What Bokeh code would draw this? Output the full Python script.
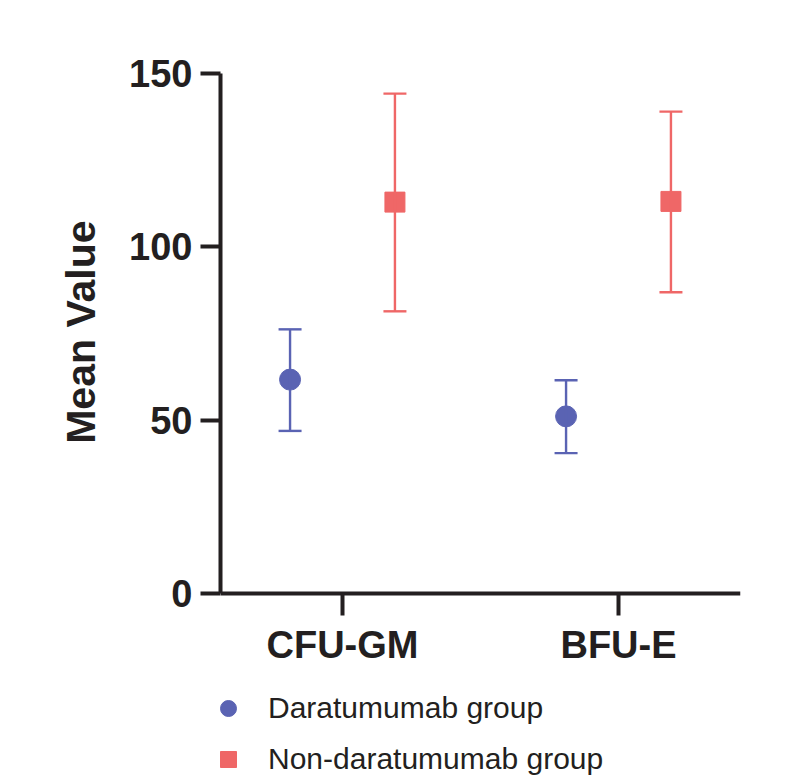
from bokeh.plotting import figure
from bokeh.models import (ColumnDataSource, FactorRange, Range1d, Whisker, TeeHead,
                          FixedTicker, Legend, LegendItem, Title)
from bokeh.transform import dodge
from bokeh.embed import file_html
from bokeh.resources import INLINE

# ---- data ----
categories = ["CFU-GM", "BFU-E"]
dara_mean = [61.7, 51.1]
dara_upper = [76.2, 61.5]
dara_lower = [46.9, 40.5]
nondara_mean = [112.9, 113.1]
nondara_upper = [144.2, 139.0]
nondara_lower = [81.4, 86.9]
y_ticks = [0, 50, 100, 150]
y_title = "Mean Value"
series_names = ["Daratumumab group", "Non-daratumumab group"]

BLUE = "#5a63b3"
RED = "#ef6767"
INK = "#231f20"

src_d = ColumnDataSource(dict(cat=categories, mean=dara_mean, upper=dara_upper, lower=dara_lower))
src_n = ColumnDataSource(dict(cat=categories, mean=nondara_mean, upper=nondara_upper, lower=nondara_lower))

# the frame reaches the bottom so the legend fits inside it; x axis is pinned at y = 0
p = figure(width=792, height=780,
           x_range=FactorRange(*categories, range_padding=-0.058, range_padding_units="absolute"),
           y_range=Range1d(-53.94, 150),
           output_backend="svg", toolbar_location=None,
           min_border_left=220, min_border_right=52, min_border_top=73, min_border_bottom=0)

p.outline_line_color = None
p.xgrid.visible = False
p.ygrid.visible = False
p.background_fill_color = "white"
p.border_fill_color = "white"

# whiskers
for src, off, col in [(src_d, -0.19, BLUE), (src_n, 0.19, RED)]:
    w = Whisker(source=src, base=dodge("cat", off, range=p.x_range), upper="upper", lower="lower",
                dimension="height", line_color=col, line_width=2.4,
                upper_head=TeeHead(size=23, line_color=col, line_width=2.4),
                lower_head=TeeHead(size=23, line_color=col, line_width=2.4))
    w.level = "glyph"
    p.add_layout(w)

r1 = p.scatter(x=dodge("cat", -0.19, range=p.x_range), y="mean", source=src_d,
               marker="circle", size=21, fill_color=BLUE, line_color=BLUE)
r2 = p.scatter(x=dodge("cat", 0.19, range=p.x_range), y="mean", source=src_n,
               marker="square", size=20, fill_color=RED, line_color=RED)

# axes
for ax in (p.xaxis[0], p.yaxis[0]):
    ax.axis_line_width = 4
    ax.axis_line_color = INK
    ax.major_tick_line_width = 4
    ax.major_tick_line_color = INK
    ax.major_tick_in = 0
    ax.minor_tick_line_color = None
    ax.major_label_text_font = "Liberation Sans"
    ax.major_label_text_font_style = "bold"
    ax.major_label_text_font_size = "38px"
    ax.major_label_text_color = INK

p.yaxis.ticker = FixedTicker(ticks=y_ticks)
p.yaxis.bounds = (0, 150)
p.yaxis.major_tick_out = 20
p.yaxis.major_label_standoff = 8

# y-axis title, centred on the 0..150 span rather than on the whole frame
p.add_layout(Title(text=y_title, align="right", vertical_align="middle", offset=147,
                   standoff=43, text_font="Liberation Sans", text_font_style="bold",
                   text_font_size="41px", text_color=INK), "left")

p.xaxis.fixed_location = 0
p.xaxis.major_tick_out = 22
p.xaxis.major_label_standoff = 8

legend = Legend(items=[LegendItem(label=series_names[0], renderers=[r1]),
                       LegendItem(label=series_names[1], renderers=[r2])],
                location=(-12, 1), orientation="vertical",
                glyph_width=40, glyph_height=40, spacing=11, padding=0, margin=0,
                label_standoff=20, label_text_font="Liberation Sans",
                label_text_font_size="30px", label_text_color=INK,
                border_line_color=None, background_fill_alpha=0)
p.add_layout(legend, "center")

open("out.html", "w").write(file_html(p, INLINE))
